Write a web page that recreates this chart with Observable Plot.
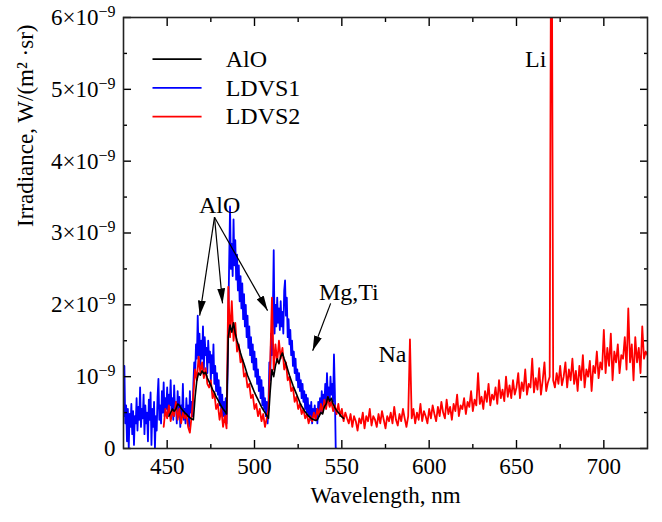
<!DOCTYPE html>
<html>
<head>
<meta charset="utf-8">
<script src="https://cdn.jsdelivr.net/npm/d3@7"></script>
<script src="https://cdn.jsdelivr.net/npm/@observablehq/plot@0.6"></script>
<style>
  html, body { margin: 0; padding: 0; background: #fff; }
  #chart svg { display: block; }
</style>
</head>
<body>
<div id="chart"></div>
<script>
// ---- Data (irradiance in units of 1e-9 W/(m^2·sr)) ----
const seriesNames = ["AlO", "LDVS1", "LDVS2"];
const seriesColors = ["#000000", "#0000ff", "#ff0000"];

// AlO model spectrum: 451..551 nm, 1 nm step
const aloStart = 451, aloStep = 1;
const aloValues = [
  0.45, 0.50, 0.55, 0.52, 0.55, 0.62, 0.60, 0.56, 0.53, 0.50,
  0.48, 0.45, 0.43, 0.41, 0.40, 0.72, 0.95, 1.05, 1.02, 1.08,
  1.04, 1.06, 0.98, 0.93, 0.88, 0.82, 0.78, 0.72, 0.68, 0.63,
  0.59, 0.55, 0.52, 0.48, 1.55, 1.72, 1.62, 1.75, 1.60, 1.50,
  1.42, 1.33, 1.25, 1.18, 1.10, 1.02, 0.96, 0.90, 0.84, 0.78,
  0.73, 0.68, 0.63, 0.58, 0.54, 0.50, 0.46, 0.42, 0.80, 1.10,
  1.00, 1.15, 1.25, 1.18, 1.28, 1.33, 1.25, 1.18, 1.10, 1.02,
  0.95, 0.88, 0.82, 0.76, 0.70, 0.64, 0.59, 0.55, 0.51, 0.48,
  0.45, 0.43, 0.41, 0.40, 0.39, 0.40, 0.45, 0.50, 0.48, 0.58,
  0.62, 0.72, 0.66, 0.70, 0.62, 0.57, 0.53, 0.50, 0.47, 0.44,
  0.42
];

// LDVS1: 425..547 nm, 0.5 nm step
const ldvs1Start = 425, ldvs1Step = 0.5;
const ldvs1Values = [
  0.45, 1.15, 0.35, 0.60, 0.10, 0.55, 0.00, 0.48, 0.30, 0.62,
  0.20, 0.52, 0.05, 0.45, 0.35, 0.70, 0.25, 0.58, 0.40, 0.85,
  0.30, 0.55, 0.42, 0.75, 0.20, 0.60, 0.35, 0.50, 0.10, 0.68,
  0.40, 0.78, 0.05, 0.55, 0.30, 0.65, 0.00, 0.45, 0.25, 0.72,
  0.97, 0.40, 0.60, 0.35, 0.80, 0.50, 0.92, 0.45, 0.70, 0.55,
  0.85, 0.48, 0.75, 0.60, 0.95, 0.52, 0.70, 0.40, 0.88, 0.55,
  0.65, 0.35, 0.80, 0.50, 0.72, 0.30, 0.60, 0.45, 0.90, 0.40,
  0.55, 0.35, 0.70, 0.45, 0.60, 0.30, 0.80, 0.50, 0.65, 0.45,
  0.90, 1.20, 1.00, 1.45, 1.25, 1.85, 1.30, 1.60, 1.15, 1.50,
  1.25, 1.70, 1.10, 1.55, 1.30, 1.40, 1.05, 1.50, 1.20, 1.35,
  0.95, 1.30, 1.05, 1.45, 0.90, 1.15, 0.80, 1.05, 0.75, 0.95,
  0.60, 0.85, 0.50, 0.75, 0.45, 0.65, 0.40, 0.70, 0.35, 0.90,
  1.80, 2.60, 3.37, 2.50, 2.85, 2.40, 3.19, 2.55, 2.90, 2.35,
  2.70, 2.20, 2.55, 2.05, 2.40, 1.95, 2.30, 1.80, 2.15, 1.70,
  2.00, 1.55, 1.85, 1.40, 1.70, 1.30, 1.55, 1.20, 1.45, 1.10,
  1.35, 1.00, 1.25, 0.90, 1.10, 0.80, 1.00, 0.70, 0.95, 0.60,
  0.85, 0.55, 0.70, 0.45, 0.65, 0.35, 0.60, 1.20, 0.95, 1.60,
  1.30, 1.85, 2.76, 1.60, 2.00, 1.70, 2.10, 1.75, 1.95, 1.65,
  2.05, 1.70, 1.90, 1.60, 2.20, 2.34, 1.85, 2.10, 1.55, 1.80,
  1.45, 1.65, 1.30, 1.50, 1.15, 1.35, 1.05, 1.25, 0.95, 1.10,
  0.85, 1.05, 0.80, 0.95, 0.70, 0.90, 0.65, 0.80, 0.55, 0.75,
  0.50, 0.70, 0.45, 0.60, 0.40, 0.65, 0.35, 0.55, 0.45, 0.60,
  0.40, 0.55, 0.35, 0.65, 0.45, 0.70, 0.50, 0.80, 0.55, 0.75,
  0.60, 0.90, 0.65, 1.05, 0.70, 0.85, 0.60, 1.00, 0.75, 0.90,
  0.65, 1.31, 0.80, 0.00, 0.00
];

// LDVS2: 448..725 nm, 1 nm step
const ldvs2Start = 448, ldvs2Step = 1;
const ldvs2Values = [
  0.30, 0.55, 0.42, 0.60, 0.38, 0.52, 0.45, 0.65, 0.40, 0.55,
  0.35, 0.50, 0.42, 0.48, 0.30, 0.22, 0.45, 0.75, 1.10, 0.95,
  1.28, 1.05, 1.20, 0.98, 1.12, 0.90, 0.85, 0.95, 0.70, 0.78,
  0.55, 0.62, 0.40, 0.55, 0.30, 0.45, 0.28, 2.25, 1.55, 2.05,
  1.50, 1.75, 1.35, 1.45, 1.20, 1.25, 1.00, 1.05, 0.85, 0.90,
  0.70, 0.75, 0.55, 0.62, 0.45, 0.55, 0.38, 0.48, 0.30, 0.42,
  0.55, 1.20, 2.10, 1.10, 1.45, 1.20, 1.50, 1.25, 1.40, 1.10,
  1.20, 0.95, 1.00, 0.80, 0.85, 0.65, 0.72, 0.55, 0.62, 0.48,
  0.55, 0.42, 0.48, 0.35, 0.45, 0.38, 0.50, 0.40, 0.55, 0.45,
  0.62, 0.50, 0.68, 0.55, 0.72, 0.58, 0.65, 0.52, 0.60, 0.48,
  0.62, 0.45, 0.55, 0.38, 0.50, 0.42, 0.35, 0.48, 0.30, 0.45,
  0.38, 0.25, 0.42, 0.35, 0.50, 0.28, 0.45, 0.38, 0.55, 0.32,
  0.45, 0.40, 0.30, 0.48, 0.35, 0.52, 0.40, 0.28, 0.45, 0.38,
  0.50, 0.35, 0.58, 0.40, 0.32, 0.48, 0.38, 0.55, 0.42, 0.30,
  0.45, 1.52, 0.42, 0.55, 0.35, 0.50, 0.40, 0.62, 0.38, 0.52,
  0.45, 0.35, 0.55, 0.42, 0.60, 0.48, 0.38, 0.58, 0.45, 0.65,
  0.50, 0.42, 0.68, 0.48, 0.58, 0.40, 0.62, 0.52, 0.75, 0.45,
  0.60, 0.55, 0.70, 0.48, 0.65, 0.58, 0.80, 0.52, 0.68, 0.60,
  1.05, 0.62, 0.72, 0.55, 0.80, 0.65, 0.90, 0.60, 0.75, 0.68,
  0.85, 0.62, 0.95, 0.70, 0.82, 0.66, 1.00, 0.72, 0.88, 0.70,
  0.95, 0.75, 0.85, 1.05, 0.70, 0.92, 0.80, 1.10, 0.75, 0.90,
  0.85, 1.25, 0.78, 0.98, 0.82, 1.12, 0.75, 0.95, 1.20, 0.80,
  0.92, 1.00, 9.00, 0.95, 0.85, 1.05, 0.90, 1.15, 0.88, 1.00,
  1.20, 0.85, 1.10, 0.95, 1.25, 0.90, 1.08, 0.80, 1.15, 0.95,
  1.30, 0.85, 1.10, 1.00, 1.22, 0.80, 1.15, 1.05, 1.35, 0.98,
  1.20, 1.10, 1.65, 1.05, 1.40, 1.15, 1.60, 0.95, 1.35, 1.20,
  1.45, 1.05, 1.30, 1.25, 1.55, 1.10, 1.95, 1.20, 1.45, 0.95,
  1.55, 1.20, 1.40, 1.05, 1.70, 1.25, 1.35, 1.30
];

// Axis ticks
const xMajorTicks = [450, 500, 550, 600, 650, 700];
const xMinorTicks = [475, 525, 575, 625, 675];
const yMajorTicks = [0, 1, 2, 3, 4, 5, 6];
const yMinorTicks = [0.5, 1.5, 2.5, 3.5, 4.5, 5.5];

// Annotations (data coordinates)
const labelNotes = [
  {label: "AlO", x: 480, y: 3.39},
  {label: "Mg,Ti", x: 554, y: 2.17},
  {label: "Na", x: 579, y: 1.31},
  {label: "Li", x: 661, y: 5.42}
];
const arrowNotes = [
  {x1: 477.1, y1: 3.22, x2: 468.6, y2: 1.85},
  {x1: 477.1, y1: 3.22, x2: 481.7, y2: 2.02},
  {x1: 477.1, y1: 3.22, x2: 507.5, y2: 1.92},
  {x1: 543.6, y1: 2.02, x2: 533.3, y2: 1.36}
];

// ---- Build tables ----
const toTable = (start, step, values) => values.map((v, i) => ({x: start + i * step, y: v}));
const alo = toTable(aloStart, aloStep, aloValues);
const ldvs1 = toTable(ldvs1Start, ldvs1Step, ldvs1Values);
const ldvs2 = toTable(ldvs2Start, ldvs2Step, ldvs2Values);

const legendRows = seriesNames.map((name, i) => ({
  name, color: seriesColors[i],
  x1: 441.6, x2: 469.7, tx: 483.5, y: 5.42 - 0.40 * i
}));

function filledArrow(color) {
  const m = d3.create("svg:marker")
    .attr("viewBox", "-15 -4 15 8")
    .attr("markerWidth", 15)
    .attr("markerHeight", 8)
    .attr("markerUnits", "userSpaceOnUse")
    .attr("refX", 0).attr("refY", 0)
    .attr("orient", "auto");
  m.append("path").attr("d", "M-15,-4L0,0L-15,4Z").attr("fill", color).attr("stroke", "none");
  return m.node();
}

const serif = '"Liberation Serif", "Times New Roman", Times, serif';
const yFmt = d => d === 0 ? "0" : d === 1 ? "10^\u22129" : `${d}\u00d710^\u22129`;

const chart = Plot.plot({
  width: 662,
  height: 522,
  marginLeft: 123,
  marginRight: 15,
  marginTop: 17,
  marginBottom: 74,
  style: {fontFamily: serif, fontSize: "23px", color: "#000", background: "#fff"},
  x: {domain: [425, 725]},
  y: {domain: [0, 6]},
  marks: [
    Plot.line(ldvs1, {x: "x", y: "y", stroke: seriesColors[1], strokeWidth: 1.8, clip: true}),
    Plot.line(ldvs2, {x: "x", y: "y", stroke: seriesColors[2], strokeWidth: 1.8, clip: true}),
    Plot.line(alo, {x: "x", y: "y", stroke: seriesColors[0], strokeWidth: 1.6, clip: true}),

    // tick labels
    Plot.axisX(xMajorTicks, {anchor: "bottom", tickSize: 0, tickPadding: 9, label: null}),
    Plot.axisY(yMajorTicks, {anchor: "left", tickSize: 0, tickPadding: 8, tickFormat: yFmt, label: null}),
    // inward ticks, all four sides
    Plot.axisX(xMajorTicks, {anchor: "bottom", tickSize: -8, fill: null, label: null, strokeWidth: 1.4}),
    Plot.axisX(xMinorTicks, {anchor: "bottom", tickSize: -4, fill: null, label: null, strokeWidth: 1.4}),
    Plot.axisX(xMajorTicks, {anchor: "top", tickSize: -8, fill: null, label: null, strokeWidth: 1.4}),
    Plot.axisX(xMinorTicks, {anchor: "top", tickSize: -4, fill: null, label: null, strokeWidth: 1.4}),
    Plot.axisY(yMajorTicks, {anchor: "left", tickSize: -8, fill: null, label: null, strokeWidth: 1.4}),
    Plot.axisY(yMinorTicks, {anchor: "left", tickSize: -4, fill: null, label: null, strokeWidth: 1.4}),
    Plot.axisY(yMajorTicks, {anchor: "right", tickSize: -8, fill: null, label: null, strokeWidth: 1.4}),
    Plot.axisY(yMinorTicks, {anchor: "right", tickSize: -4, fill: null, label: null, strokeWidth: 1.4}),

    // axis titles
    Plot.text(["Wavelength, nm"], {text: d => d, frameAnchor: "bottom", dy: 54, fontSize: 23}),
    Plot.text(["Irradiance, W/(m\u00b2 \u00b7sr)"], {text: d => d, frameAnchor: "left", dx: -98, dy: -6, rotate: -90, fontSize: 23}),

    // legend
    ...legendRows.map(r => Plot.link([r], {x1: "x1", x2: "x2", y1: "y", y2: "y", stroke: r.color, strokeWidth: 1.8})),
    Plot.text(legendRows, {x: "tx", y: "y", text: "name", textAnchor: "start", fontSize: 24}),

    // annotations
    Plot.link(arrowNotes, {x1: "x1", y1: "y1", x2: "x2", y2: "y2", stroke: "#000", strokeWidth: 1.2, markerEnd: filledArrow}),
    Plot.text(labelNotes, {x: "x", y: "y", text: "label", fontSize: 24}),

    Plot.frame({stroke: "#222", strokeWidth: 1.6})
  ]
});

// superscripts on y tick labels
d3.select(chart).selectAll('g[aria-label="y-axis tick label"] text').each(function () {
  const t = this.textContent;
  const m = t.match(/^(.*)\^(.*)$/);
  if (!m) return;
  const sel = d3.select(this);
  sel.text(null);
  sel.append("tspan").text(m[1]);
  sel.append("tspan").attr("dy", "-0.5em").attr("font-size", "16px").text(m[2]);
});

document.getElementById("chart").appendChild(chart);
</script>
</body>
</html>
